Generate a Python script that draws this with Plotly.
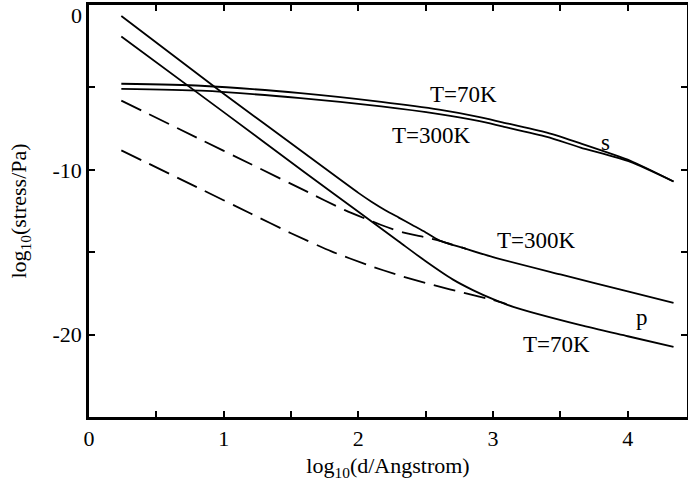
import plotly.graph_objects as go

# s curves (shear)
s70_x = [0.24, 0.83, 1.57, 2.17, 2.6, 2.9, 3.06, 3.4, 3.65, 4.02, 4.34]
s70_y = [-4.78, -4.9, -5.35, -5.88, -6.35, -6.8, -7.1, -7.75, -8.4, -9.45, -10.71]
s300_x = [0.24, 0.83, 1.57, 2.17, 2.6, 2.9, 3.06, 3.4, 3.65, 4.02, 4.34]
s300_y = [-5.09, -5.2, -5.65, -6.15, -6.62, -7.05, -7.35, -8.0, -8.65, -9.52, -10.71]

# p curves, solid (total)
p300_x = [0.24, 1.0, 1.6, 2.0, 2.1, 2.2, 2.3, 2.4, 2.5, 2.6, 2.8, 3.0, 3.5, 4.0, 4.34]
p300_y = [-0.67, -5.38, -9.0, -11.4, -11.95, -12.45, -12.9, -13.35, -13.8, -14.28, -14.8, -15.3, -16.35, -17.38, -18.08]
p70_x = [0.24, 1.0, 1.6, 2.0, 2.3, 2.5, 2.7, 2.85, 3.0, 3.15, 3.65, 4.0, 4.34]
p70_y = [-1.91, -6.5, -10.15, -12.55, -14.35, -15.55, -16.65, -17.3, -17.85, -18.32, -19.43, -20.1, -20.75]

# p curves, dashed
p300d_x = [0.24, 0.8, 1.2, 1.6, 1.9, 2.17, 2.33, 2.5, 2.6, 2.8]
p300d_y = [-5.8, -8.05, -9.65, -11.25, -12.45, -13.35, -13.8, -14.1, -14.3, -14.8]
p70d_x = [0.24, 0.8, 1.2, 1.5, 1.8, 2.07, 2.3, 2.56, 2.8, 3.0, 3.1]
p70d_y = [-8.82, -11.05, -12.65, -13.85, -14.95, -15.78, -16.4, -17.0, -17.5, -17.9, -18.15]

x_tickvals = [0, 0.5, 1, 1.5, 2, 2.5, 3, 3.5, 4]
x_ticktext = ["0", " ", "1", " ", "2", " ", "3", " ", "4"]
y_tickvals = [0, -5, -10, -15, -20, -25]
y_ticktext = [" ", " ", "-10", " ", "-20", " "]
y_top_label = "0"

labels = [
    (2.78, -5.43, "T=70K"),
    (2.544, -7.93, "T=300K"),
    (3.834, -8.36, "s"),
    (3.32, -14.32, "T=300K"),
    (4.108, -18.95, "p"),
    (3.47, -20.6, "T=70K"),
]

FONT = "Liberation Serif"
fig = go.Figure()
solid = dict(color="black", width=1.8)
dashed = dict(color="black", width=1.8, dash="22px,9px")
for xs, ys, ln in [
    (s70_x, s70_y, solid), (s300_x, s300_y, solid),
    (p300_x, p300_y, solid), (p70_x, p70_y, solid),
    (p300d_x, p300d_y, dashed), (p70d_x, p70d_y, dashed),
]:
    fig.add_trace(go.Scatter(x=xs, y=ys, mode="lines", line=dict(shape="spline", smoothing=0.6, **ln),
                             showlegend=False, hoverinfo="skip"))

for x, y, t in labels:
    fig.add_annotation(x=x, y=y, text=t, showarrow=False, font=dict(family=FONT, size=23, color="black"))

# top y tick label drawn slightly below the frame, as in the reference
fig.add_annotation(x=0, xref="paper", y=0, yref="y", text=y_top_label, showarrow=False,
                   xanchor="right", yanchor="top", xshift=-5, yshift=4,
                   font=dict(family=FONT, size=22, color="black"))

fig.update_layout(
    width=688, height=492,
    margin=dict(l=89, r=1, t=5, b=75, autoexpand=False),
    paper_bgcolor="white", plot_bgcolor="white",
    font=dict(family=FONT, size=22, color="black"),
    xaxis=dict(range=[0, 4.44], tickvals=x_tickvals, ticktext=x_ticktext,
               ticks="inside", ticklen=6, tickwidth=2, tickcolor="black",
               showline=True, linewidth=2.5, linecolor="black", mirror="ticks",
               showgrid=False, zeroline=False, automargin=False,
               title=dict(text="log<sub>10</sub>(d/Angstrom)", font=dict(size=22), standoff=8)),
    yaxis=dict(range=[-25, 0], tickvals=y_tickvals, ticktext=y_ticktext,
               ticks="inside", ticklen=6, tickwidth=2, tickcolor="black",
               showline=True, linewidth=2.5, linecolor="black", mirror="ticks",
               showgrid=False, zeroline=False, automargin=False,
               title=dict(text="log<sub>10</sub>(stress/Pa)", font=dict(size=22), standoff=20)),
)
fig.write_html("out.html", config={"displayModeBar": False},
               post_script="document.body.style.margin='0';")
